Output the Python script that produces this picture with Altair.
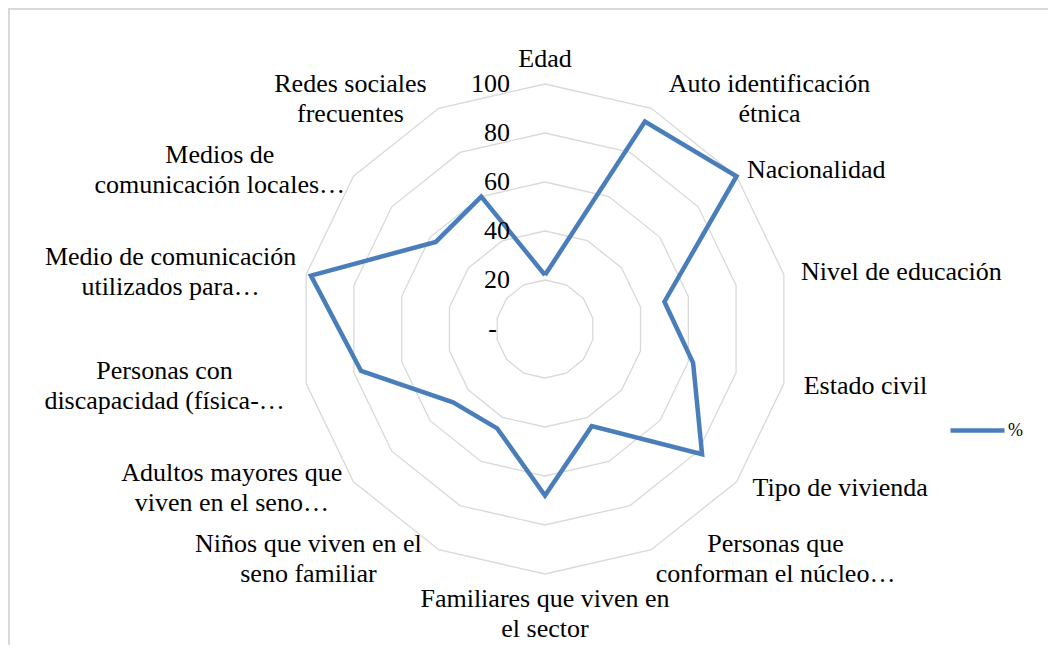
import altair as alt
import pandas as pd

# ---------------- data ----------------
categories = [
    "Edad",
    "Auto identificación\nétnica",
    "Nacionalidad",
    "Nivel de educación",
    "Estado civil",
    "Tipo de vivienda",
    "Personas que\nconforman el núcleo…",
    "Familiares que viven en\nel sector",
    "Niños que viven en el\nseno familiar",
    "Adultos mayores que\nviven en el seno…",
    "Personas con\ndiscapacidad (física-…",
    "Medio de comunicación\nutilizados para…",
    "Medios de\ncomunicación locales…",
    "Redes sociales\nfrecuentes",
]
values = [22, 94, 100, 50, 62, 82, 44, 68, 45, 48, 77, 98, 57, 60]
series_name = "%"
tick_values = [0, 20, 40, 60, 80, 100]
tick_labels = ["-", "20", "40", "60", "80", "100"]

# ---------------- layout (styles) ----------------
W, H = 1040, 637          # plot area in px
CX, CY = 537, 321         # centre of the radar in plot px
PX = 2.45                 # px per value unit
LABEL_R = 104             # radius (value units) of category label anchors
CHAR_PX = 6.0             # half of an average character width (px)
LINE_H = 30
FONT = "'Liberation Serif', 'DejaVu Serif', 'Times New Roman', serif"
BLUE = "#4a7ebb"
GRID = "#d9d9d9"

N = len(categories)
x_dom = [-CX / PX, (W - CX) / PX]
y_dom = [-(H - CY) / PX, CY / PX]

xs = alt.Scale(domain=x_dom, nice=False, zero=False)
ys = alt.Scale(domain=y_dom, nice=False, zero=False)

ANG = f"datum.idx * 2 * PI / {N}"

# series (closed polygon)
series_df = pd.DataFrame({
    "idx": list(range(N)) + [N],
    "value": values + [values[0]],
    "series": series_name,
})

# grid rings
grid_rows = []
for lv in tick_values[1:]:
    for i in range(N + 1):
        grid_rows.append({"level": lv, "idx": i})
grid_df = pd.DataFrame(grid_rows)

# tick labels
tick_df = pd.DataFrame({"level": tick_values, "label": tick_labels})

# category labels
lab_rows = []
for i, c in enumerate(categories):
    lines = c.split("\n")
    lab_rows.append({
        "idx": i,
        "label": c,
        "hw": max(len(l) for l in lines) * CHAR_PX,
        "hh": len(lines) * LINE_H / 2,
        "shift": (len(lines) - 1) * LINE_H / 2,
    })
lab_df = pd.DataFrame(lab_rows)

grid = alt.Chart(grid_df).transform_calculate(
    ang=ANG
).transform_calculate(
    x="datum.level * sin(datum.ang)", y="datum.level * cos(datum.ang)"
).mark_line(color=GRID, strokeWidth=1.3).encode(
    x=alt.X("x:Q", scale=xs, axis=None),
    y=alt.Y("y:Q", scale=ys, axis=None),
    detail="level:N",
    order="idx:Q",
)

series = alt.Chart(series_df).transform_calculate(
    ang=ANG
).transform_calculate(
    x="datum.value * sin(datum.ang)", y="datum.value * cos(datum.ang)"
).mark_line(strokeWidth=4.5, strokeJoin="miter").encode(
    x=alt.X("x:Q", scale=xs, axis=None),
    y=alt.Y("y:Q", scale=ys, axis=None),
    order="idx:Q",
    color=alt.Color(
        "series:N",
        scale=alt.Scale(domain=[series_name], range=[BLUE]),
        legend=alt.Legend(
            title=None, orient="none", legendX=940, legendY=393,
            symbolType="stroke", symbolSize=2916, symbolStrokeWidth=4.5,
            labelFont=FONT, labelFontSize=18, labelColor="black",
            labelOffset=1, padding=0,
        ),
    ),
)

ticks_base = alt.Chart(tick_df).transform_calculate(
    x="0", y="datum.level"
).encode(
    x=alt.X("x:Q", scale=xs, axis=None),
    y=alt.Y("y:Q", scale=ys, axis=None),
    text="label:N",
)
ticks = ticks_base.transform_filter("datum.level > 0").mark_text(
    align="right", baseline="middle", dx=-35, font=FONT, fontSize=26,
    color="black")
tick_zero = ticks_base.transform_filter("datum.level == 0").mark_text(
    align="right", baseline="middle", dx=-48, font=FONT, fontSize=26,
    color="black")

labels = alt.Chart(lab_df).transform_calculate(
    ang=ANG
).transform_calculate(
    s="sin(datum.ang)", c="cos(datum.ang)"
).transform_calculate(
    x=f"{LABEL_R} * datum.s + (abs(datum.s) > 0.05 ? (datum.s > 0 ? 1 : -1) * datum.hw / {PX} : 0)",
    y=f"{LABEL_R} * datum.c + (abs(datum.s) <= 0.05 ? (datum.c > 0 ? 1 : -1) * datum.hh / {PX} : 0) + datum.shift / {PX}",
).mark_text(align="center", baseline="middle", lineBreak="\n",
            lineHeight=LINE_H, font=FONT, fontSize=26, color="black").encode(
    x=alt.X("x:Q", scale=xs, axis=None),
    y=alt.Y("y:Q", scale=ys, axis=None),
    text="label:N",
)

border_left = alt.Chart(tick_df).mark_rule(color=GRID, strokeWidth=1.5).encode(
    x=alt.value(1), y=alt.value(0), y2=alt.value(H)
)
border_top = alt.Chart(tick_df).mark_rule(color=GRID, strokeWidth=1.5).encode(
    x=alt.value(0), x2=alt.value(W), y=alt.value(0.75)
)

chart = alt.layer(
    border_left, border_top, grid, series, ticks, tick_zero, labels
).properties(
    width=W, height=H, padding=0,
    autosize=alt.AutoSizeParams(type="none"),
).configure_view(stroke=None)

chart.save("out.html", embed_options={"renderer": "svg", "actions": False})
